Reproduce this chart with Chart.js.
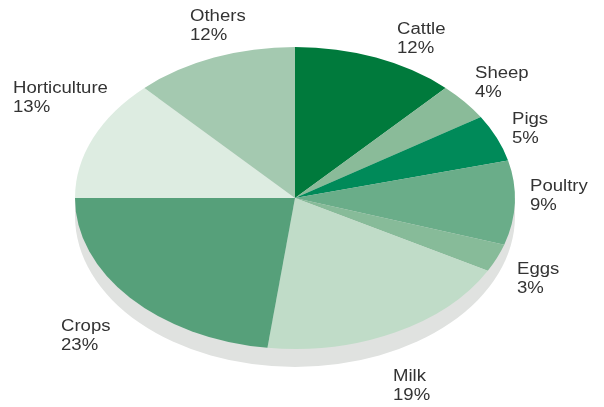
<!DOCTYPE html>
<html>
<head>
<meta charset="utf-8">
<script src="https://cdn.jsdelivr.net/npm/chart.js@4"></script>
<style>
  html, body { margin: 0; padding: 0; background: #fff; }
  #wrap { position: relative; width: 604px; height: 407px; }
  .lbl {
    position: absolute;
    font-family: "Liberation Sans", Arial, sans-serif;
    font-size: 16px;
    line-height: 18.5px;
    color: #333;
    white-space: nowrap;
    transform: scaleX(1.16);
    transform-origin: left top;
  }
</style>
</head>
<body>
<div id="wrap">
  <canvas id="pie" width="604" height="407"></canvas>
</div>
<script>
// data, clockwise from 12 o'clock
const sectors = ["Cattle", "Sheep", "Pigs", "Poultry", "Eggs", "Milk", "Crops", "Horticulture", "Others"];
const shares = [12, 4, 5, 9, 3, 19, 23, 13, 12];

const colours = ["#007a3c", "#8abb99", "#008a59", "#6aad89", "#87bb99", "#c0dcc8", "#56a07a", "#ddece1", "#a4c9b0"];
// where each label sits (left, top)
const labelSpots = [[397, 20], [475, 64], [512, 110], [530, 177], [517, 260], [393, 367], [61, 317], [13, 79], [190, 7]];

const stretchX = 220 / 151;   // squash pie into an ellipse
const depth = 18;             // grey rim under the pie

const ellipse = {
  id: "ellipse",
  beforeDatasetsDraw(chart) {
    const arc = chart.getDatasetMeta(0).data[0];
    const { x, y, outerRadius: r } = arc;
    const ctx = chart.ctx;
    ctx.save();
    ctx.translate(x, y);
    ctx.scale(stretchX, 1);
    ctx.translate(-x, -y);
    ctx.fillStyle = "#e0e2e0";
    ctx.beginPath();
    ctx.arc(x, y + depth, r, 0, Math.PI * 2);
    ctx.fill();
    ctx.fillRect(x - r, y, 2 * r, depth);
  },
  afterDatasetsDraw(chart) {
    chart.ctx.restore();
  }
};

new Chart(document.getElementById("pie"), {
  type: "pie",
  data: {
    labels: sectors,
    datasets: [{
      data: shares,
      backgroundColor: colours,
      borderWidth: 0,
      hoverOffset: 0,
      clip: false
    }]
  },
  options: {
    responsive: false,
    animation: false,
    events: [],
    layout: { padding: { left: 144, right: 158, top: 47, bottom: 58 } },
    plugins: {
      legend: { display: false },
      tooltip: { enabled: false }
    }
  },
  plugins: [ellipse]
});

const wrap = document.getElementById("wrap");
sectors.forEach((name, i) => {
  const d = document.createElement("div");
  d.className = "lbl";
  d.style.left = labelSpots[i][0] + "px";
  d.style.top = labelSpots[i][1] + "px";
  d.innerHTML = name + "<br>" + shares[i] + "%";
  wrap.appendChild(d);
});
</script>
</body>
</html>
